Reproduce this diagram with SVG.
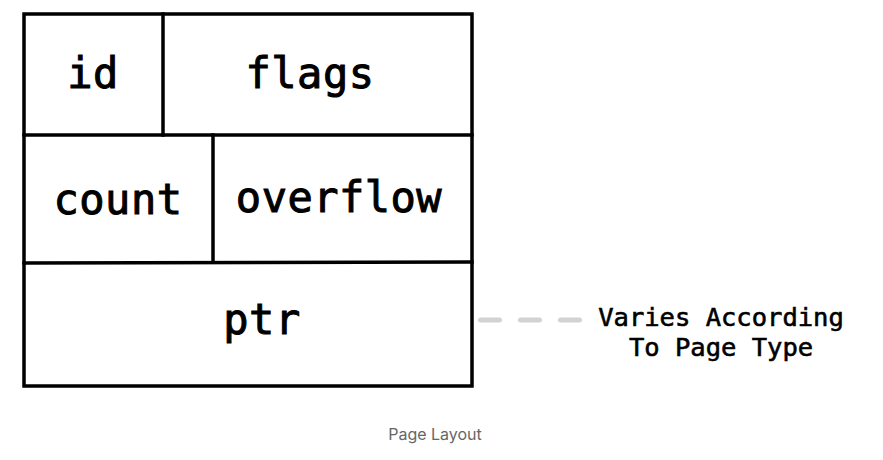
<svg xmlns="http://www.w3.org/2000/svg" width="883" height="460" viewBox="0 0 883 460">
<style>
.box{fill:none;stroke:#000;stroke-width:3.5;stroke-linecap:square}
.lbl{font-family:"DejaVu Sans Mono","Liberation Mono",monospace;font-weight:normal;font-size:42px;fill:#000;stroke:#000;stroke-width:1;text-anchor:middle;letter-spacing:0.5px}
.note{font-family:"DejaVu Sans Mono","Liberation Mono",monospace;font-weight:normal;font-size:25.5px;fill:#000;stroke:#000;stroke-width:0.6;text-anchor:middle}
.cap{font-family:Inter,"Noto Sans",sans-serif;font-size:16px;fill:#666;text-anchor:middle}
</style>
<rect width="883" height="460" fill="#fff"/>
<g id="page">
<rect class="box" x="24" y="14" width="448" height="372"/>
</g>
<g id="id">
<line class="box" x1="163" y1="14" x2="163" y2="135"/>
<text class="lbl" x="93" y="88">id</text>
</g>
<g id="flags">
<text class="lbl" x="310" y="88">flags</text>
</g>
<g id="count">
<line class="box" x1="24" y1="135" x2="472" y2="135"/>
<line class="box" x1="213" y1="135" x2="213" y2="262"/>
<text class="lbl" x="118" y="214">count</text>
</g>
<g id="overflow">
<text class="lbl" x="339" y="212">overflow</text>
</g>
<g id="ptr">
<line class="box" x1="24" y1="263" x2="472" y2="262"/>
<text class="lbl" x="262" y="334">ptr</text>
</g>
<g id="connectors">
<line x1="480.5" y1="320" x2="579.5" y2="320" stroke="#d3d3d3" stroke-width="5" stroke-linecap="round" stroke-dasharray="19 21"/>
</g>
<g id="note">
<text class="note" x="721" y="326">Varies According</text>
<text class="note" x="721" y="356">To Page Type</text>
</g>
<text class="cap" x="435" y="440">Page Layout</text>
</svg>
